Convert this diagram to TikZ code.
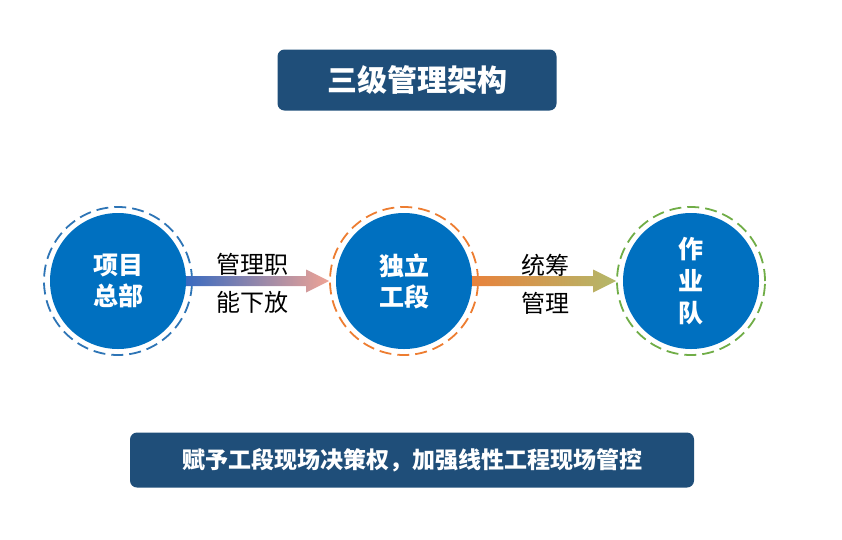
\documentclass[tikz,border=0pt]{standalone}
\usepackage{fontspec}
\setmainfont{Noto Sans CJK SC}
\usetikzlibrary{calc}
\definecolor{boxblue}{RGB}{31,78,121}
\definecolor{circblue}{RGB}{0,112,192}
\definecolor{ringblue}{RGB}{46,117,182}
\definecolor{ringorange}{RGB}{237,125,49}
\definecolor{ringgreen}{RGB}{112,173,71}
\definecolor{arrblue}{RGB}{58,107,192}
\definecolor{arrpink}{RGB}{238,163,149}
\definecolor{arrorange}{RGB}{232,130,60}
\definecolor{arrolive}{RGB}{179,184,106}
\tikzset{
  banner/.style={fill=boxblue,rounded corners=7pt,text=white,inner sep=0pt},
  circ/.style={circle,fill=circblue,minimum size=136pt,inner sep=0pt,text=white,align=center},
  ring/.style={circle,draw=#1,line width=1.8pt,dash pattern=on 12pt off 6pt,minimum size=148pt,inner sep=0pt},
  lbl/.style={text=black,align=center,font=\fontsize{24}{38}\selectfont},
}
% shaded block arrow from one node to another
\newcommand{\gradarrow}[4]{%
  \shade[left color=#3,right color=#4] let \p1=(#1.east), \p2=(#2.west) in
  (\x1,\y1+5pt) -- (\x2-23pt,\y1+5pt) -- (\x2-23pt,\y1+11.5pt) -- (\x2,\y1)
  -- (\x2-23pt,\y1-11.5pt) -- (\x2-23pt,\y1-5pt) -- (\x1,\y1-5pt) -- cycle;}
\begin{document}
\begin{tikzpicture}[x=1pt,y=-1pt]
\useasboundingbox (0,0) rectangle (842,539);
% ==========================================
\node (title) at (417,80) [banner,minimum width=279pt,minimum height=61pt,font=\fontsize{30}{30}\selectfont\bfseries] {三级管理架构};
%
\node (hqring) at (118,281) [ring=ringblue] {};
\node (hq) at (118,281) [circ,font=\fontsize{25}{31}\selectfont\bfseries] {项目\\总部};
%
\node (secring) at (404,281) [ring=ringorange] {};
\node (sec) at (404,281) [circ,font=\fontsize{25}{31}\selectfont\bfseries] {独立\\工段};
%
\node (teamring) at (691,281) [ring=ringgreen] {};
\node (team) at (691,281) [circ,font=\fontsize{25}{32}\selectfont\bfseries] {作\\业\\队};
%
\gradarrow{hq}{secring}{arrblue}{arrpink}
\node (down) at (252,283) [lbl] {管理职\\能下放};
%
\gradarrow{sec}{teamring}{arrorange}{arrolive}
\node (plan) at (545,284) [lbl] {统筹\\管理};
%
\node (note) at (412,460) [banner,minimum width=564pt,minimum height=55pt,font=\fontsize{23}{23}\selectfont\bfseries] {赋予工段现场决策权，加强线性工程现场管控};
% =============================================
\end{tikzpicture}
\end{document}
